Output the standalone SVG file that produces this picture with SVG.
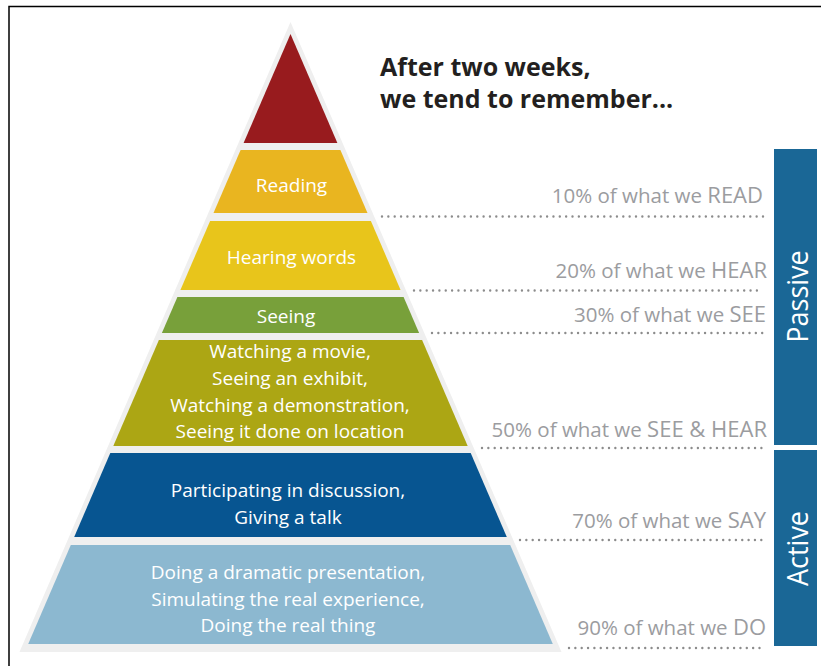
<svg xmlns="http://www.w3.org/2000/svg" width="821" height="666" viewBox="0 0 821 666">
  <style>
    .lbl { font-family: "Open Sans", "Noto Sans", "Liberation Sans", sans-serif; font-size: 19px; fill: #ffffff; text-anchor: middle; }
    .pct { font-family: "Open Sans", "Noto Sans", "Liberation Sans", sans-serif; font-size: 20.5px; fill: #9b9ca0; text-anchor: end; }
    .pct tspan { font-size: 22px; }
    .title { font-family: "Open Sans", "Noto Sans", "Liberation Sans", sans-serif; font-size: 25px; font-weight: 700; fill: #231f20; }
    .side { font-family: "Open Sans", "Noto Sans", "Liberation Sans", sans-serif; font-size: 30px; fill: #ffffff; text-anchor: middle; }
    .dots { stroke: #8c8c8c; stroke-width: 2.4; stroke-linecap: round; stroke-dasharray: 0 6.35; fill: none; }
  </style>

  <rect width="821" height="666" fill="#ffffff"/>
  <!-- frame -->
  <path d="M9,666 V6.5 H821" fill="none" stroke="#000000" stroke-width="1.5"/>

  <!-- light halo behind the pyramid -->
  <polygon id="pyramid-outline" points="290.5,22 561.5,652 19.5,652" fill="#efefef"/>

  <g id="apex">
    <polygon points="290.5,34 337.4,143 243.6,143" fill="#981b1e"/>
  </g>
  <g id="reading">
    <polygon points="240.6,150 340.4,150 367.5,213 213.5,213" fill="#e9b520"/>
    <text class="lbl" x="291.5" y="191.5">Reading</text>
  </g>
  <g id="hearing">
    <polygon points="210.1,221 370.9,221 400.6,290 180.4,290" fill="#e8c51b"/>
    <text class="lbl" x="291.5" y="263.5">Hearing words</text>
  </g>
  <g id="seeing">
    <polygon points="177.4,297 403.6,297 419.1,333 161.9,333" fill="#78a03a"/>
    <text class="lbl" x="286" y="322.5">Seeing</text>
  </g>
  <g id="watching">
    <polygon points="158.9,340 422.1,340 467.7,446 113.3,446" fill="#aca614"/>
    <text class="lbl" x="290" y="358">Watching a movie,</text>
    <text class="lbl" x="290" y="385">Seeing an exhibit,</text>
    <text class="lbl" x="290" y="411.5">Watching a demonstration,</text>
    <text class="lbl" x="290" y="438">Seeing it done on location</text>
  </g>
  <g id="discussion">
    <polygon points="110.3,453 470.7,453 506.8,537 74.2,537" fill="#075591"/>
    <text class="lbl" x="288" y="497">Participating in discussion,</text>
    <text class="lbl" x="288" y="523.5">Giving a talk</text>
  </g>
  <g id="doing">
    <polygon points="70.8,545 510.2,545 552.8,644 28.2,644" fill="#8cb8d0"/>
    <text class="lbl" x="288" y="578.5">Doing a dramatic presentation,</text>
    <text class="lbl" x="288" y="605.5">Simulating the real experience,</text>
    <text class="lbl" x="288" y="632">Doing the real thing</text>
  </g>

  <g id="title">
    <text class="title" x="380" y="75.5">After two weeks,</text>
    <text class="title" x="380" y="107.5">we tend to remember...</text>
  </g>

  <!-- dotted leader lines from each tier to the right margin -->
  <g id="connectors">
    <line class="dots" x1="382" y1="216.5" x2="763" y2="216.5"/>
    <line class="dots" x1="414" y1="290.5" x2="763" y2="290.5"/>
    <line class="dots" x1="432" y1="333" x2="763" y2="333"/>
    <line class="dots" x1="482" y1="448" x2="763" y2="448"/>
    <line class="dots" x1="520" y1="540" x2="763" y2="540"/>
    <line class="dots" x1="569" y1="648" x2="763" y2="648"/>
  </g>

  <g id="percentages">
    <text class="pct" x="763" y="203">10% of what we <tspan>READ</tspan></text>
    <text class="pct" x="767" y="278">20% of what we <tspan>HEAR</tspan></text>
    <text class="pct" x="766" y="322">30% of what we <tspan>SEE</tspan></text>
    <text class="pct" x="767" y="437">50% of what we <tspan>SEE &amp; HEAR</tspan></text>
    <text class="pct" x="766" y="528">70% of what we <tspan>SAY</tspan></text>
    <text class="pct" x="766" y="635">90% of what we <tspan>DO</tspan></text>
  </g>

  <g id="passive">
    <rect x="774" y="149" width="43" height="296" fill="#1a6796"/>
    <text class="side" transform="translate(808,296.5) rotate(-90) scale(0.9,1)">Passive</text>
  </g>
  <g id="active">
    <rect x="774" y="450" width="43" height="196" fill="#1a6796"/>
    <text class="side" transform="translate(808,548.5) rotate(-90) scale(0.9,1)">Active</text>
  </g>
</svg>
